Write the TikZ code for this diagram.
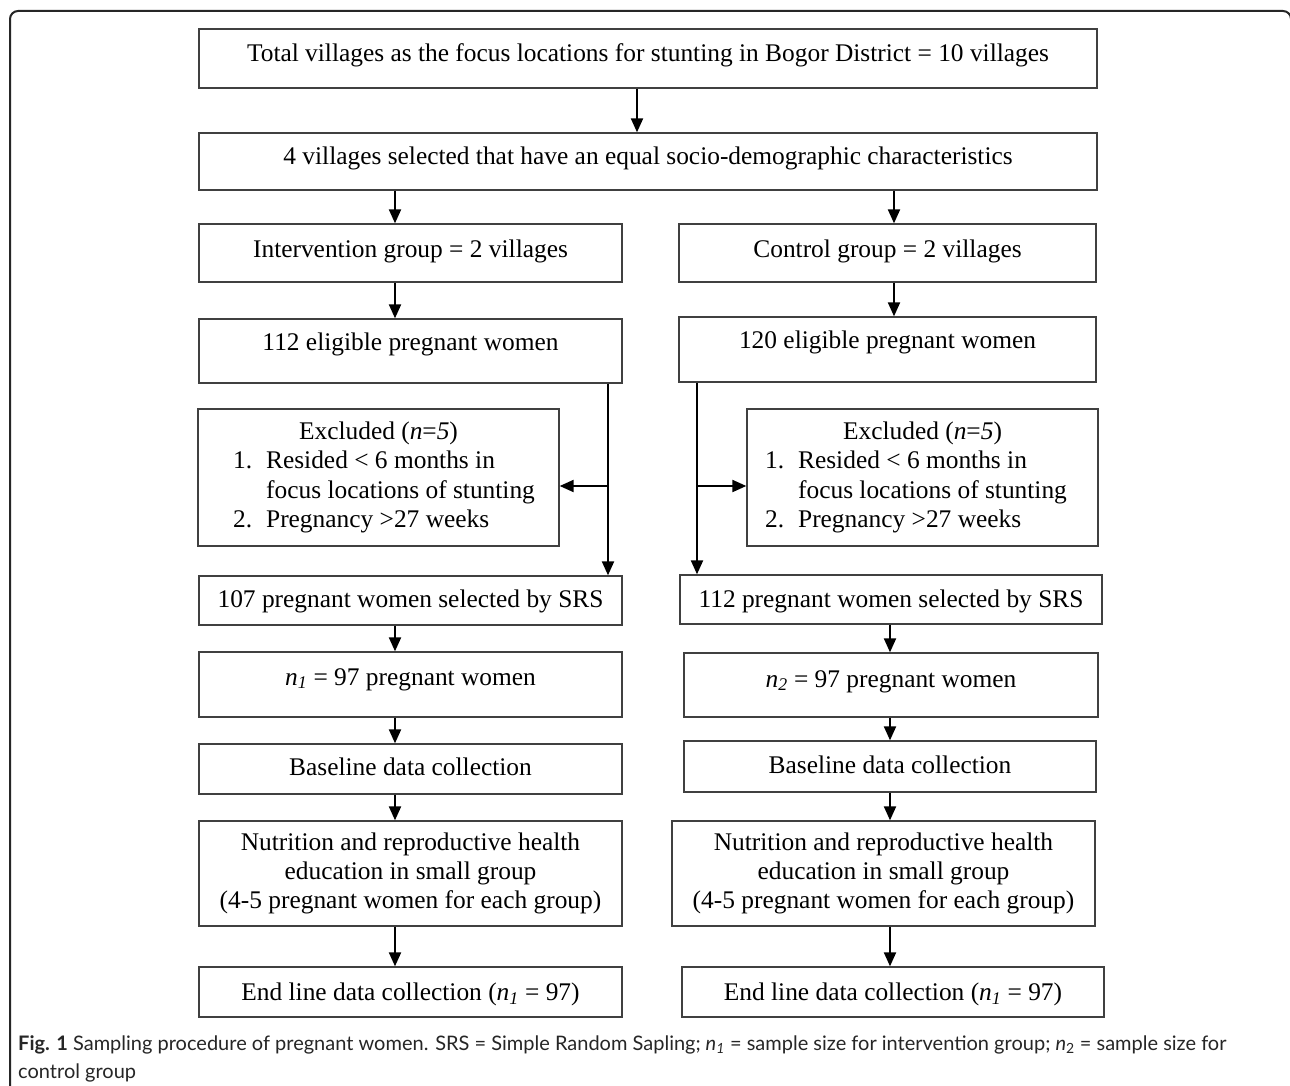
\documentclass[tikz,border=0pt]{standalone}
\usepackage{fontspec}
\setmainfont{Liberation Serif}
\newfontfamily\capfont{Lato}
\usetikzlibrary{arrows.meta}
\newcommand\flowbox[7]{\node[flowb,#1,minimum width={(#5)-(#3)},minimum height={(#6)-(#4)}] (#2) at ({((#3)+(#5))/2},{((#4)+(#6))/2}) {#7};}
\begin{document}
\begin{tikzpicture}[x=1pt,y=-1pt,
 flowb/.style={draw=black!75,line width=1.3pt,inner sep=0pt,align=center,font=\fontsize{25.4}{29.4}\selectfont},
 oneline/.style={text height=18pt,text depth=#1},
 arrw/.style={draw=black,line width=2pt,-{Triangle[width=12pt,length=14pt]}},
 outerframe/.style={draw=black!85,line width=2pt,rounded corners=8pt},
 captext/.style={anchor=base west,inner sep=0pt,font=\capfont\fontsize{20}{28}\selectfont,text=black!85}]
\clip (0,0) rectangle (1290,1086);
\fill[white] (0,0) rectangle (1290,1086);
\draw[outerframe] (10,1100) -- (10,11) -- (1291,11) -- (1291,1100);

\flowbox{oneline=11pt}{top}{199}{29}{1097}{88}{Total villages as the focus locations for stunting in Bogor District = 10 villages}
\flowbox{oneline=11pt}{sel}{199}{133}{1097}{190}{4 villages selected that have an equal socio-demographic characteristics}
\flowbox{oneline=10pt}{intv}{199}{224}{622}{282}{Intervention group = 2 villages}
\flowbox{oneline=10pt}{ctrl}{679}{224}{1096}{282}{Control group = 2 villages}
\flowbox{oneline=20pt}{elA}{199}{319}{622}{383}{112 eligible pregnant women}
\flowbox{oneline=20pt}{elB}{679}{317}{1096}{382}{120 eligible pregnant women}
\flowbox{}{exA}{198}{409}{559}{546}{\begin{tabular}{@{\hspace{11pt}}r@{\hspace{14pt}}l@{}}\multicolumn{2}{@{}c@{}}{Excluded (\textit{n}=\textit{5})}\\ 1. & Resided < 6 months in\\ & focus locations of stunting\\ 2. & Pregnancy >27 weeks\end{tabular}}
\flowbox{}{exB}{747}{409}{1098}{546}{\begin{tabular}{@{}r@{\hspace{14pt}}l@{\hspace{13pt}}}\multicolumn{2}{@{}c@{}}{Excluded (\textit{n}=\textit{5})}\\ 1. & Resided < 6 months in\\ & focus locations of stunting\\ 2. & Pregnancy >27 weeks\end{tabular}}
\flowbox{oneline=5pt}{srsA}{199}{576}{622}{625}{107 pregnant women selected by SRS}
\flowbox{oneline=3pt}{srsB}{680}{575}{1102}{624}{112 pregnant women selected by SRS}
\flowbox{oneline=17pt}{nA}{199}{652}{622}{717}{\textit{n}\textsubscript{\textit{1}} = 97 pregnant women}
\flowbox{oneline=14pt}{nB}{684}{653}{1098}{717}{\textit{n}\textsubscript{\textit{2}} = 97 pregnant women}
\flowbox{oneline=5pt}{bA}{199}{744}{622}{794}{Baseline data collection}
\flowbox{oneline=5pt}{bB}{684}{741}{1096}{792}{Baseline data collection}
\flowbox{}{nuA}{199}{821}{622}{926}{Nutrition and reproductive health\\education in small group\\(4-5 pregnant women for each group)}
\flowbox{}{nuB}{672}{821}{1095}{926}{Nutrition and reproductive health\\education in small group\\(4-5 pregnant women for each group)}
\flowbox{oneline=1pt}{eA}{199}{967}{622}{1017}{End line data collection (\textit{n}\textsubscript{\textit{1}} = 97)}
\flowbox{oneline=1pt}{eB}{682}{967}{1104}{1017}{End line data collection (\textit{n}\textsubscript{\textit{1}} = 97)}

\coordinate (xa) at (637,0);
\coordinate (xb) at (395,0);
\coordinate (xc) at (894,0);
\coordinate (xd) at (608,0);
\coordinate (xe) at (697,0);
\coordinate (xf) at (890,0);
\coordinate (yb) at (0,486);

\draw[arrw] (top.south -| xa) -- (sel.north -| xa);
\draw[arrw] (sel.south -| xb) -- (intv.north -| xb);
\draw[arrw] (sel.south -| xc) -- (ctrl.north -| xc);
\draw[arrw] (intv.south -| xb) -- (elA.north -| xb);
\draw[arrw] (ctrl.south -| xc) -- (elB.north -| xc);
\draw[arrw] (elA.south -| xd) -- (srsA.north -| xd);
\draw[arrw] (elB.south -| xe) -- (srsB.north -| xe);
\draw[arrw] (xd |- yb) -- (exA.east |- yb);
\draw[arrw] (xe |- yb) -- (exB.west |- yb);
\draw[arrw] (srsA.south -| xb) -- (nA.north -| xb);
\draw[arrw] (nA.south -| xb) -- (bA.north -| xb);
\draw[arrw] (bA.south -| xb) -- (nuA.north -| xb);
\draw[arrw] (nuA.south -| xb) -- (eA.north -| xb);
\draw[arrw] (srsB.south -| xf) -- (nB.north -| xf);
\draw[arrw] (nB.south -| xf) -- (bB.north -| xf);
\draw[arrw] (bB.south -| xf) -- (nuB.north -| xf);
\draw[arrw] (nuB.south -| xf) -- (eB.north -| xf);

\node[captext] (capA) at (18,1050) {\textbf{Fig. 1} Sampling procedure of pregnant women. SRS = Simple Random Sapling; \textit{n}\textsubscript{\textit{1}} = sample size for intervention group; \textit{n}\textsubscript{2} = sample size for};
\node[captext] (capB) at (18,1078) {control group};
\end{tikzpicture}
\end{document}
